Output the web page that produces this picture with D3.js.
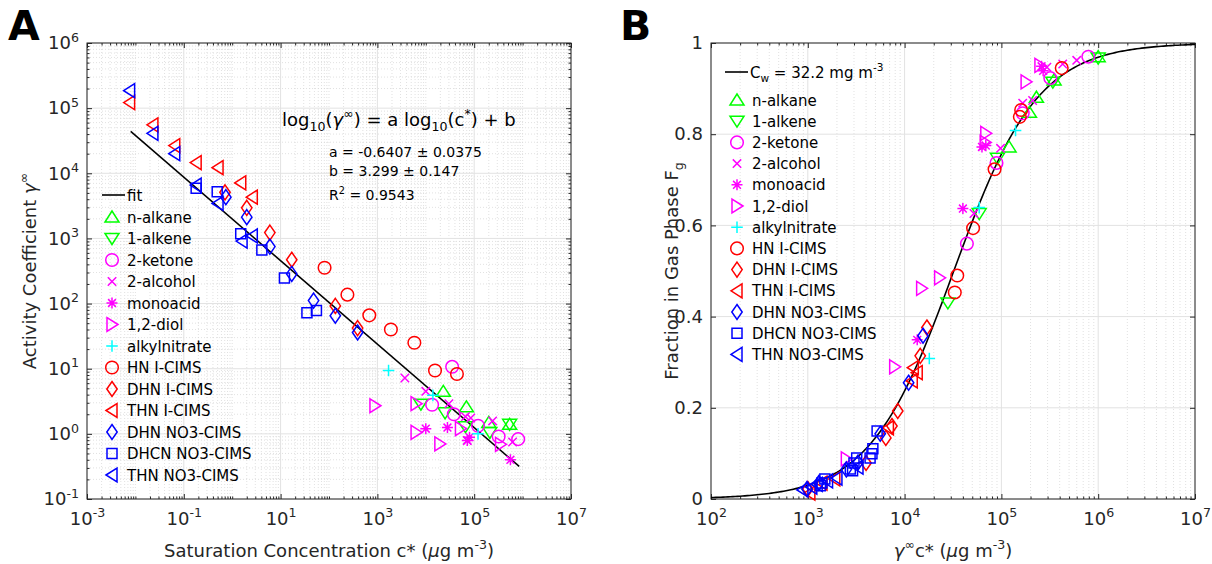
<!DOCTYPE html>
<html>
<head>
<meta charset="utf-8">
<script src="https://cdn.jsdelivr.net/npm/d3@7"></script>
<style>
  body { margin: 0; background: #fff; }
  svg text { font-family: "DejaVu Sans", sans-serif; }
</style>
</head>
<body>
<svg id="fig" width="1212" height="564"></svg>
<script>
// ---- series (same for both panels) ----
const seriesNames = ["n-alkane", "1-alkene", "2-ketone", "2-alcohol", "monoacid", "1,2-diol",
  "alkylnitrate", "HN I-CIMS", "DHN I-CIMS", "THN I-CIMS", "DHN NO3-CIMS", "DHCN NO3-CIMS", "THN NO3-CIMS"];

// ---- panel A : [c* (ug m-3), activity coefficient] ----
const aNAlkane = [[2.3e4, 4.5], [6.9e4, 2.6], [2.0e5, 1.5], [5.4e5, 1.4]];
const aAlkene  = [[7.9e3, 2.85], [2.5e4, 2.1], [6.6e4, 1.29], [2.1e5, 1.05], [5.4e5, 1.4]];
const aKetone  = [[3.5e4, 10.7], [1.35e4, 2.8], [3.8e4, 2.0], [1.2e5, 1.33], [3.2e5, 0.91], [8.1e5, 0.83]];
const aAlcohol = [[3.7e3, 7.2], [1.0e4, 4.5], [3.0e4, 2.9], [6.6e4, 1.84], [8.5e4, 1.75], [2.4e5, 1.58], [6.2e5, 0.75], [7.2e4, 0.79]];
const aAcid    = [[1.0e4, 1.2], [2.8e4, 1.25], [7.2e4, 0.79], [8.0e4, 0.89], [5.6e5, 0.40]];
const aDiol    = [[890, 2.7], [6.3e3, 2.9], [6.3e3, 1.05], [1.95e4, 0.70], [5.2e4, 1.2], [3.5e5, 0.69]];
const aNitrate = [[1.7e3, 9.4], [1.4e4, 3.9], [1.2e5, 1.0]];
const aHnI     = [[81, 355], [240, 137], [680, 66], [1.9e3, 40], [5.8e3, 25], [1.55e4, 9.4], [4.4e4, 8.3]];
const aDhnI    = [[0.71, 5.1e3], [2.0, 2.95e3], [6.0, 1.23e3], [17, 470], [135, 92], [390, 42]];
const aThnI    = [[0.0076, 1.22e5], [0.023, 5.55e4], [0.065, 2.66e4], [0.18, 1.46e4], [0.51, 1.22e4], [1.5, 7.1e3], [2.6, 4.3e3]];
const aDhnN    = [[0.74, 4.3e3], [2.0, 2.12e3], [6.0, 750], [17, 285], [48, 111], [135, 65], [390, 36]];
const aDhcnN   = [[0.18, 5.9e3], [0.49, 5.2e3], [1.5, 1.18e3], [4.1, 665], [12, 248], [35, 72], [55, 78]];
const aThnN    = [[0.0076, 1.85e5], [0.023, 4.1e4], [0.065, 2.0e4], [0.18, 6.6e3], [0.51, 3.45e3], [1.6, 910], [2.6, 1.09e3]];

// fit: log10(gamma) = a log10(c*) + b
const fitA = -0.6407, fitB = 3.299;
const fitRange = [0.008, 8.5e5];

// ---- panel B : [gamma*c* (ug m-3), Fg] ----
const bNAlkane = [[1.0e6, 0.970], [3.5e5, 0.919], [2.3e5, 0.881], [1.95e5, 0.848], [1.2e5, 0.772]];
const bAlkene  = [[1.0e6, 0.967], [3.4e5, 0.914], [9.1e4, 0.747], [5.9e4, 0.626], [2.8e4, 0.430]];
const bKetone  = [[7.9e5, 0.970], [3.2e5, 0.923], [1.66e5, 0.846], [8.9e4, 0.737], [4.4e4, 0.560]];
const bAlcohol = [[6.0e5, 0.962], [4.3e5, 0.954], [2.95e5, 0.947], [2.1e5, 0.874], [1.66e5, 0.868], [9.8e4, 0.769], [5.2e4, 0.626]];
const bAcid    = [[2.6e5, 0.949], [2.7e5, 0.939], [6.9e4, 0.775], [6.3e4, 0.772], [4.0e4, 0.637], [1.35e4, 0.349]];
const bDiol    = [[2.5e5, 0.951], [1.8e5, 0.915], [6.9e4, 0.802], [6.8e4, 0.782], [2.3e4, 0.485], [1.5e4, 0.462], [7.9e3, 0.290], [2.5e3, 0.088]];
const bNitrate = [[1.4e5, 0.808], [5.9e4, 0.639], [1.8e4, 0.308]];
const bHnI     = [[4.2e5, 0.945], [1.6e5, 0.853], [1.55e5, 0.838], [8.5e4, 0.723], [5.1e4, 0.594], [3.5e4, 0.490], [3.3e4, 0.453]];
const bDhnI    = [[1.7e4, 0.376], [1.45e4, 0.314], [8.5e3, 0.193], [7.4e3, 0.160], [6.4e3, 0.134], [4.0e3, 0.079], [1.0e3, 0.022]];
const bThnI    = [[1.23e4, 0.288], [1.35e4, 0.277], [1.2e4, 0.259], [6.8e3, 0.156], [1.9e3, 0.044], [1.4e3, 0.035], [1.05e3, 0.013]];
const bDhnN    = [[1.55e4, 0.358], [1.1e4, 0.255], [5.6e3, 0.143], [3.3e3, 0.080], [2.5e3, 0.065], [1.3e3, 0.035], [980, 0.022]];
const bDhcnN   = [[5.2e3, 0.149], [4.7e3, 0.110], [4.6e3, 0.099], [4.4e3, 0.090], [3.2e3, 0.090], [3.0e3, 0.079], [2.75e3, 0.066], [2.9e3, 0.062], [1.5e3, 0.044], [1.4e3, 0.035], [1.35e3, 0.029]];
const bThnN    = [[2.0e3, 0.046], [1.6e3, 0.040], [1.25e3, 0.032], [1.1e3, 0.026], [3.3e3, 0.070], [890, 0.020]];

const Cw = 32200; // ug m-3  (32.2 mg m-3)

// tick values
const aXTicks = [1e-3, 1e-1, 1e1, 1e3, 1e5, 1e7];
const aYTicks = [1e-1, 1e0, 1e1, 1e2, 1e3, 1e4, 1e5, 1e6];
const bXTicks = [1e2, 1e3, 1e4, 1e5, 1e6, 1e7];
const bYTicks = [0, 0.2, 0.4, 0.6, 0.8, 1];
const bYTickLabels = ["0", "0.2", "0.4", "0.6", "0.8", "1"];

// styles
const colors = ["#00ff00", "#00ff00", "#ff00ff", "#ff00ff", "#ff00ff", "#ff00ff", "#00ffff",
  "#ff0000", "#ff0000", "#ff0000", "#0000ff", "#0000ff", "#0000ff"];
const shapes = ["up", "down", "circle", "x", "star", "right", "plus", "circle", "diamond", "left", "diamond", "square", "left"];
const axisColor = "#262626";

function markerPath(s) {
  switch (s) {
    case "up": return "M0,-6L7,5L-7,5Z";
    case "down": return "M0,6L7,-5L-7,-5Z";
    case "left": return "M-6,0L5,-7L5,7Z";
    case "right": return "M6,0L-5,-7L-5,7Z";
    case "circle": return "M6.3,0A6.3,6.3 0 1,1 -6.3,0A6.3,6.3 0 1,1 6.3,0Z";
    case "diamond": return "M0,-7.5L5.2,0L0,7.5L-5.2,0Z";
    case "square": return "M-5,-5H5V5H-5Z";
    case "x": return "M-4.2,-4.2L4.2,4.2M-4.2,4.2L4.2,-4.2";
    case "plus": return "M-5.8,0H5.8M0,-5.8V5.8";
    case "star": return "M-5.5,0H5.5M0,-5.5V5.5M-3.9,-3.9L3.9,3.9M-3.9,3.9L3.9,-3.9";
  }
}

// minor log ticks between decades
function logMinor(lo, hi, major) {
  const out = [];
  for (let e = lo; e < hi; e++) {
    for (let k = 1; k < 10; k++) {
      const v = k * Math.pow(10, e);
      if (!major.some(m => Math.abs(m - v) / v < 1e-9)) out.push(v);
    }
  }
  return out;
}

// writes text made of parts: {t, sup, sub, it}
function rich(sel, parts, fs) {
  let cur = 0;
  parts.forEach(p => {
    const target = p.sup ? -0.42 * fs : p.sub ? 0.3 * fs : 0;
    const ts = sel.append("tspan").text(p.t);
    if (target !== cur) ts.attr("dy", target - cur);
    if (p.sup || p.sub) ts.attr("font-size", fs * 0.7);
    if (p.it) ts.attr("font-style", "italic");
    cur = target;
  });
}

const svg = d3.select("#fig");

function drawPanel(p) {
  const g = svg.append("g").attr("transform", `translate(${p.left},${p.top})`);
  const w = p.width, h = p.height;

  // grid
  const grid = g.append("g");
  grid.selectAll(".gxm").data(p.xMinor).join("line")
    .attr("x1", d => p.x(d)).attr("x2", d => p.x(d)).attr("y1", 0).attr("y2", h)
    .attr("stroke", "#d4d4d4").attr("stroke-width", 0.7).attr("stroke-dasharray", "1,2");
  grid.selectAll(".gym").data(p.yMinor).join("line")
    .attr("y1", d => p.y(d)).attr("y2", d => p.y(d)).attr("x1", 0).attr("x2", w)
    .attr("stroke", "#d4d4d4").attr("stroke-width", 0.7).attr("stroke-dasharray", "1,2");
  grid.selectAll(".gx").data(p.xTicks).join("line")
    .attr("x1", d => p.x(d)).attr("x2", d => p.x(d)).attr("y1", 0).attr("y2", h)
    .attr("stroke", "#e2e2e2").attr("stroke-width", 1);
  grid.selectAll(".gy").data(p.yTicks).join("line")
    .attr("y1", d => p.y(d)).attr("y2", d => p.y(d)).attr("x1", 0).attr("x2", w)
    .attr("stroke", "#e2e2e2").attr("stroke-width", 1);

  const axStyle = a => a.attr("color", axisColor).attr("font-size", 18)
    .attr("font-family", "DejaVu Sans").call(s => s.select(".domain").remove());

  // major ticks with labels
  g.append("g").attr("transform", `translate(0,${h})`)
    .call(d3.axisBottom(p.x).tickValues(p.xTicks).tickSizeInner(-5).tickSizeOuter(0).tickPadding(13))
    .call(axStyle)
    .call(a => a.selectAll(".tick text").each(function (d, i) { p.xLabel(d3.select(this), d, i); }));
  g.append("g")
    .call(d3.axisLeft(p.y).tickValues(p.yTicks).tickSizeInner(-5).tickSizeOuter(0).tickPadding(8))
    .call(axStyle)
    .call(a => a.selectAll(".tick text").each(function (d, i) { p.yLabel(d3.select(this), d, i); }));
  g.append("g")
    .call(d3.axisTop(p.x).tickValues(p.xTicks).tickSizeInner(-5).tickSizeOuter(0).tickFormat(""))
    .call(axStyle);
  g.append("g").attr("transform", `translate(${w},0)`)
    .call(d3.axisRight(p.y).tickValues(p.yTicks).tickSizeInner(-5).tickSizeOuter(0).tickFormat(""))
    .call(axStyle);

  // minor ticks
  [[d3.axisBottom, h, 0, "x"], [d3.axisTop, 0, 0, "x"], [d3.axisLeft, 0, 0, "y"], [d3.axisRight, 0, w, "y"]]
    .forEach(([fn, ty, tx, k]) => {
      const vals = k === "x" ? p.xMinor : p.yMinor;
      if (!vals.length) return;
      g.append("g").attr("transform", `translate(${tx},${ty})`)
        .call(fn(k === "x" ? p.x : p.y).tickValues(vals).tickSizeInner(-2.5).tickSizeOuter(0).tickFormat(""))
        .call(axStyle);
    });

  // box
  g.append("rect").attr("width", w).attr("height", h)
    .attr("fill", "none").attr("stroke", axisColor).attr("stroke-width", 1);

  // curve
  g.append("path").datum(p.curve)
    .attr("d", d3.line().x(d => p.x(d[0])).y(d => p.y(d[1])))
    .attr("fill", "none").attr("stroke", "#000").attr("stroke-width", 1.6);

  // points
  p.series.forEach((arr, i) => {
    g.append("g").selectAll("path").data(arr).join("path")
      .attr("transform", d => `translate(${p.x(d[0])},${p.y(d[1])})`)
      .attr("d", markerPath(shapes[i]))
      .attr("fill", "none").attr("stroke", colors[i]).attr("stroke-width", 1.5);
  });

  // legend
  const lg = svg.append("g");
  lg.append("line").attr("x1", p.leg.lineX[0]).attr("x2", p.leg.lineX[1])
    .attr("y1", p.leg.lineY).attr("y2", p.leg.lineY).attr("stroke", "#000").attr("stroke-width", 1.6);
  const lt = lg.append("text").attr("x", p.leg.lineX[1] + 2).attr("y", p.leg.lineY + 5.5)
    .attr("font-size", 15).attr("fill", "#000");
  rich(lt, p.leg.lineLabel, 15);
  seriesNames.forEach((name, i) => {
    const yy = p.leg.y0 + i * p.leg.dy;
    lg.append("path").attr("transform", `translate(${p.leg.mx},${yy})`)
      .attr("d", markerPath(shapes[i])).attr("fill", "none")
      .attr("stroke", colors[i]).attr("stroke-width", 1.5);
    lg.append("text").attr("x", p.leg.tx).attr("y", yy + 5.5)
      .attr("font-size", 15).attr("fill", "#000").text(name);
  });

  // axis labels
  const xl = svg.append("text").attr("x", p.left + w / 2).attr("y", 557)
    .attr("text-anchor", "middle").attr("font-size", 18).attr("fill", axisColor);
  rich(xl, p.xTitle, 18);
  const yl = svg.append("text")
    .attr("transform", `translate(${p.yTitleX},${p.top + h / 2}) rotate(-90)`)
    .attr("text-anchor", "middle").attr("font-size", 18).attr("fill", axisColor);
  rich(yl, p.yTitle, 18);

  svg.append("text").attr("x", p.letterX).attr("y", 40)
    .attr("font-size", 41).attr("font-weight", "bold").attr("fill", "#000").text(p.letter);
  return g;
}

function powLabel(t, d) {
  const e = Math.round(Math.log10(d));
  t.text(null);
  rich(t, [{ t: "10" }, { t: String(e), sup: true }], 18);
}

// ---- panel A ----
const xA = d3.scaleLog().domain([1e-3, 1e7]).range([0, 484]);
const yA = d3.scaleLog().domain([1e-1, 1e6]).range([456, 0]);
drawPanel({
  left: 87, top: 43, width: 484, height: 456,
  x: xA, y: yA,
  xTicks: aXTicks, yTicks: aYTicks,
  xMinor: logMinor(-3, 7, aXTicks), yMinor: logMinor(-1, 6, aYTicks),
  xLabel: powLabel, yLabel: powLabel,
  curve: fitRange.map(c => [c, Math.pow(10, fitA * Math.log10(c) + fitB)]),
  series: [aNAlkane, aAlkene, aKetone, aAlcohol, aAcid, aDiol, aNitrate, aHnI, aDhnI, aThnI, aDhnN, aDhcnN, aThnN],
  leg: { lineX: [102, 125], lineY: 195, lineLabel: [{ t: "fit" }], mx: 112, tx: 127, y0: 217, dy: 21.5 },
  xTitle: [{ t: "Saturation Concentration c* (" }, { t: "μ", it: true }, { t: "g m" }, { t: "-3", sup: true }, { t: ")" }],
  yTitle: [{ t: "Activity Coefficient " }, { t: "γ", it: true }, { t: "∞", sup: true }],
  yTitleX: 36, letter: "A", letterX: 8
});

// equation text
const eq = svg.append("text").attr("x", 282).attr("y", 126).attr("font-size", 18).attr("fill", "#000");
rich(eq, [{ t: "log" }, { t: "10", sub: true }, { t: "(" }, { t: "γ", it: true }, { t: "∞", sup: true },
  { t: ") = a log" }, { t: "10", sub: true }, { t: "(c" }, { t: "*", sup: true }, { t: ") + b" }], 18);
svg.append("text").attr("x", 329).attr("y", 157).attr("font-size", 14).attr("fill", "#000")
  .text(`a = ${fitA} ± 0.0375`);
svg.append("text").attr("x", 329).attr("y", 176).attr("font-size", 14).attr("fill", "#000")
  .text(`b = ${fitB} ± 0.147`);
const r2 = svg.append("text").attr("x", 329).attr("y", 200).attr("font-size", 14).attr("fill", "#000");
rich(r2, [{ t: "R" }, { t: "2", sup: true }, { t: " = 0.9543" }], 14);

// ---- panel B ----
const xB = d3.scaleLog().domain([1e2, 1e7]).range([0, 484]);
const yB = d3.scaleLinear().domain([0, 1]).range([456, 0]);
const bCurveX = d3.range(0, 201).map(i => Math.pow(10, 2 + 5 * i / 200));
drawPanel({
  left: 711, top: 43, width: 484, height: 456,
  x: xB, y: yB,
  xTicks: bXTicks, yTicks: bYTicks,
  xMinor: logMinor(2, 7, bXTicks), yMinor: [],
  xLabel: powLabel,
  yLabel: (t, d, i) => t.text(bYTickLabels[i]),
  curve: bCurveX.map(X => [X, 1 / (1 + Cw / X)]),
  series: [bNAlkane, bAlkene, bKetone, bAlcohol, bAcid, bDiol, bNitrate, bHnI, bDhnI, bThnI, bDhnN, bDhcnN, bThnN],
  leg: { lineX: [725, 748], lineY: 72, lineLabel: [{ t: "C" }, { t: "w", sub: true }, { t: " = 32.2 mg m" }, { t: "-3", sup: true }],
         mx: 737, tx: 752, y0: 100, dy: 21.2 },
  xTitle: [{ t: "γ", it: true }, { t: "∞", sup: true }, { t: "c* (" }, { t: "μ", it: true }, { t: "g m" }, { t: "-3", sup: true }, { t: ")" }],
  yTitle: [{ t: "Fraction in Gas Phase F" }, { t: "g", sub: true }],
  yTitleX: 678, letter: "B", letterX: 620
});
</script>
</body>
</html>
